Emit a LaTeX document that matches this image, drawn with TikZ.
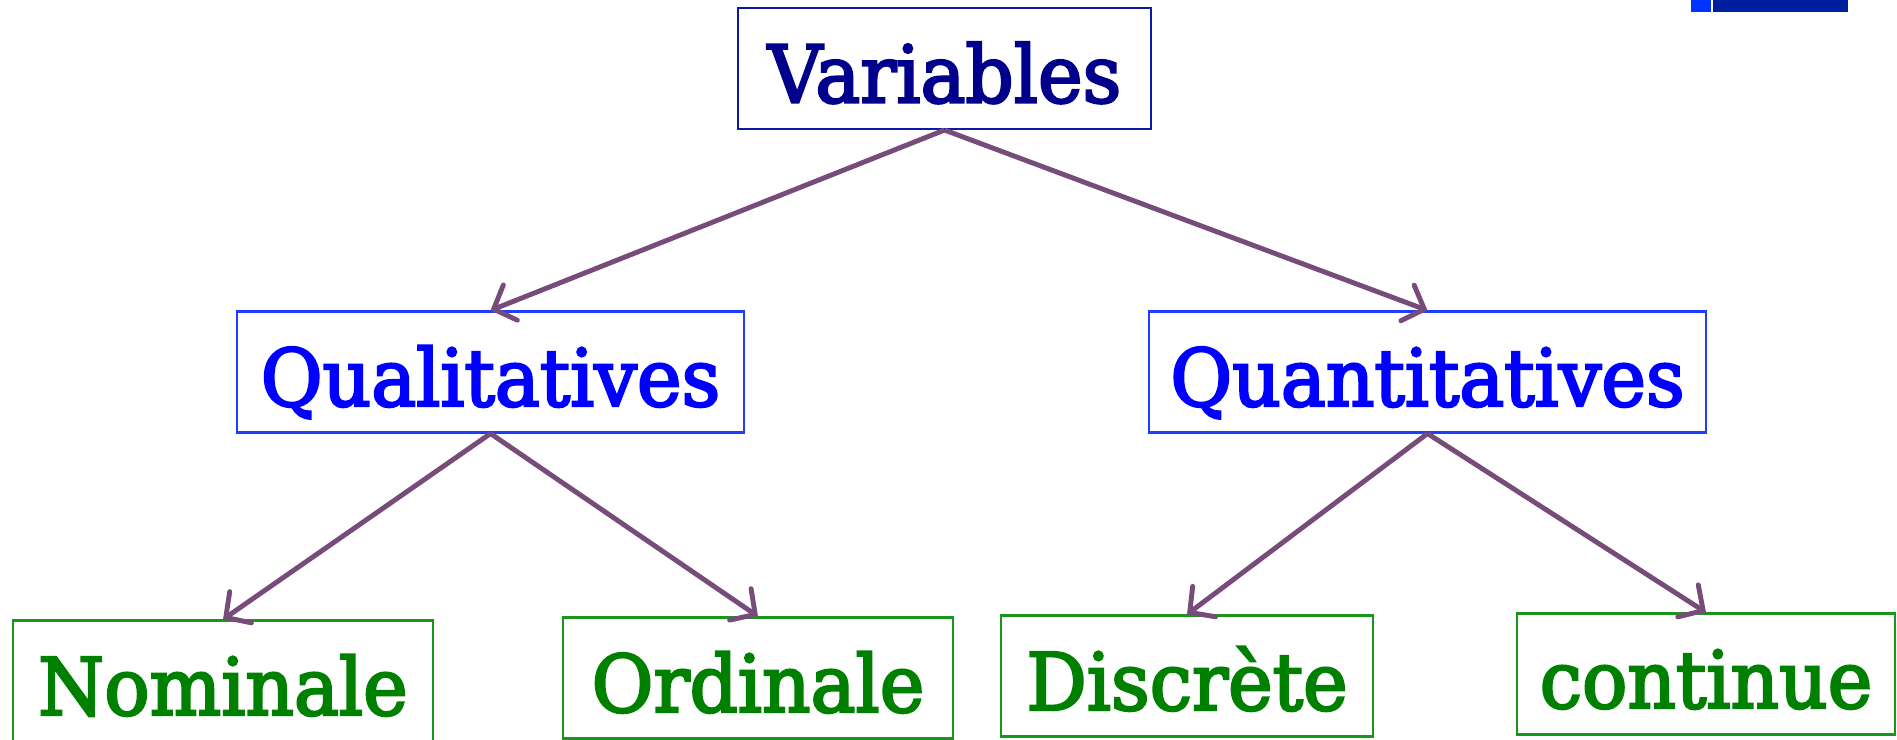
\documentclass[tikz,border=0pt]{standalone}
\usepackage{fontspec}
\setmainfont{DejaVu Serif}[FakeStretch=0.95,FakeBold=3]
\usetikzlibrary{arrows.meta}
\definecolor{navyText}{HTML}{00008C}
\definecolor{navyLine}{HTML}{0B18A8}
\definecolor{blueText}{HTML}{0000FF}
\definecolor{blueLine}{HTML}{1F3DFF}
\definecolor{greenText}{HTML}{008000}
\definecolor{greenLine}{HTML}{1A961A}
\definecolor{plum}{HTML}{774C7A}
\definecolor{barLight}{HTML}{0033FF}
\definecolor{barDark}{HTML}{001F9F}
\tikzset{
  basebox/.style={draw,line width=0.6pt,inner sep=0pt,minimum height=1.21cm,
    text height=0.8cm,text depth=0.12cm,font=\fontsize{22.6pt}{27pt}\selectfont},
  rootbox/.style={basebox,draw=navyLine,text=navyText},
  kindbox/.style={basebox,draw=blueLine,text=blueText},
  leafbox/.style={basebox,draw=greenLine,text=greenText},
  arrow/.style={-{Straight Barb[length=1.8mm,width=3.8mm,line cap=round]},line width=1.4pt,draw=plum}
}

\begin{document}
\begin{tikzpicture}
  \useasboundingbox (0,0) rectangle (18.97,7.39);
  \clip (0,0) rectangle (18.97,7.39);

  % theme bars, top right
  \fill[barLight] (16.91,7.27) rectangle (17.11,7.39);
  \fill[barDark] (17.13,7.27) rectangle (18.48,7.39);

  \node[rootbox,minimum width=4.13cm] (var) at (9.445,6.705) {Variables};
  \node[kindbox,minimum width=5.07cm] (qual) at (4.905,3.67) {Qualitatives};
  \node[kindbox,minimum width=5.57cm] (quant) at (14.275,3.67) {Quantitatives};
  \node[leafbox,minimum width=4.20cm] (nom) at (2.23,0.58) {Nominale};
  \node[leafbox,minimum width=3.90cm] (ord) at (7.58,0.61) {Ordinale};
  \node[leafbox,minimum width=3.72cm] (disc) at (11.87,0.63) {Discrète};
  \node[leafbox,minimum width=3.78cm] (cont) at (17.06,0.65) {continue};

  \draw[arrow] (var.south) -- (qual.north);
  \draw[arrow] (var.south) -- (quant.north);
  \draw[arrow] (qual.south) -- (nom.north);
  \draw[arrow] (qual.south) -- (ord.north);
  \draw[arrow] (quant.south) -- (disc.north);
  \draw[arrow] (quant.south) -- (cont.north);
\end{tikzpicture}
\end{document}
